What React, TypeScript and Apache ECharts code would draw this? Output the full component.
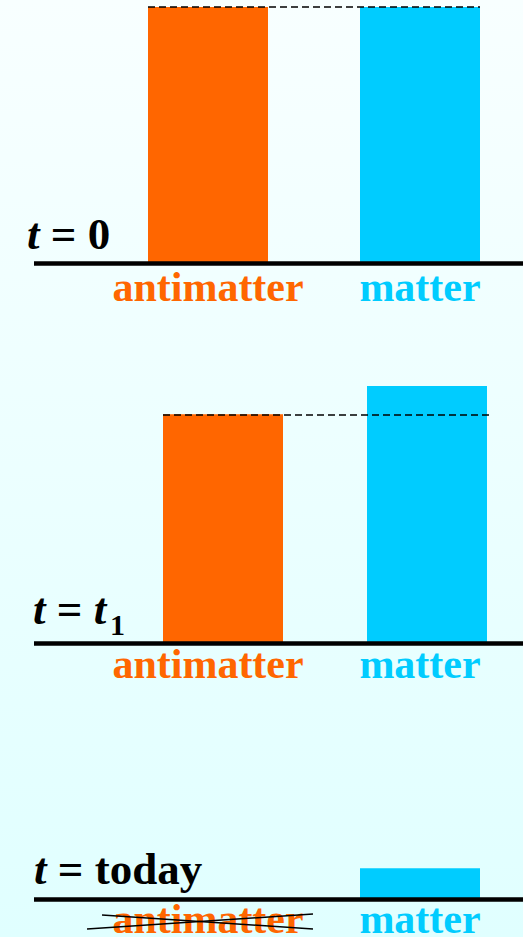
import React, { useEffect, useRef } from 'react';
import * as echarts from 'echarts';

// ---- data ----
const categories = ['antimatter', 'matter'];
const valuesT0 = [100, 100];
const valuesT1 = [89, 100];
const valuesToday = [0, 12];
const yMax = 100;

// ---- style ----
const ORANGE = '#FF6600';
const CYAN = '#00CCFF';
const SERIF = '"Liberation Serif", "Times New Roman", serif';
const BAR_W = 120;
const LABEL_SIZE = 42;

type Panel = {
  values: number[];
  left: number;
  width: number;
  top: number;
  height: number;
  labelMargin: number;
  labelShift: number[]; // right padding to offset labels
  dash: number[] | null; // [xStart, xEnd] of dashed reference line
};

const panels: Panel[] = [
  { values: valuesT0, left: 102, width: 424, top: 7, height: 256, labelMargin: 3, labelShift: [0, 0], dash: [148, 480] },
  { values: valuesT1, left: 121, width: 408, top: 386, height: 257, labelMargin: 0, labelShift: [30, 14], dash: [163, 492] },
  { values: valuesToday, left: 102, width: 424, top: 643, height: 256, labelMargin: -1, labelShift: [0, 0], dash: null },
];

export default function App() {
  const ref = useRef<HTMLDivElement>(null);

  useEffect(() => {
    if (!ref.current) return;
    const chart = echarts.init(ref.current, undefined, { renderer: 'svg' });

    const grid = panels.map((p) => ({
      left: p.left,
      top: p.top,
      width: p.width,
      height: p.height,
      containLabel: false,
      outerBoundsMode: 'none',
    }));

    const xAxis = panels.map((p, i) => ({
      type: 'category',
      gridIndex: i,
      data: categories,
      axisLine: { show: false },
      axisTick: { show: false },
      splitLine: { show: false },
      axisLabel: {
        margin: p.labelMargin,
        interval: 0,
        formatter: (v: string) => (v === 'antimatter' ? '{a|' + v + '}' : '{m|' + v + '}'),
        rich: {
          a: {
            color: ORANGE,
            fontFamily: SERIF,
            fontWeight: 'bold',
            fontSize: LABEL_SIZE,
            lineHeight: LABEL_SIZE,
            padding: [0, p.labelShift[0], 0, 0],
          },
          m: {
            color: CYAN,
            fontFamily: SERIF,
            fontWeight: 'bold',
            fontSize: LABEL_SIZE,
            lineHeight: LABEL_SIZE,
            padding: [0, p.labelShift[1], 0, 0],
          },
        },
      },
    }));

    const yAxis = panels.map((_, i) => ({
      type: 'value',
      gridIndex: i,
      min: 0,
      max: yMax,
      show: false,
    }));

    const series = panels.map((p, i) => {
      const lines: any[] = [
        [
          { x: 34, yAxis: 0, lineStyle: { type: 'solid', width: 4.5, color: '#000' } },
          { x: 523, yAxis: 0 },
        ],
      ];
      if (p.dash) {
        lines.push([
          { x: p.dash[0], yAxis: p.values[0], lineStyle: { type: [7, 4], width: 1.5, color: '#000' } },
          { x: p.dash[1], yAxis: p.values[0] },
        ]);
      }
      return {
        type: 'bar',
        xAxisIndex: i,
        yAxisIndex: i,
        barWidth: BAR_W,
        data: p.values.map((v, j) => ({
          value: v,
          itemStyle: { color: j === 0 ? ORANGE : CYAN },
        })),
        markLine: {
          silent: true,
          symbol: ['none', 'none'],
          label: { show: false },
          data: lines,
        },
      };
    });

    const titleRich = {
      i: { fontFamily: SERIF, fontWeight: 'bold', fontStyle: 'italic', fontSize: 45, lineHeight: 45, fill: '#000' },
      b: { fontFamily: SERIF, fontWeight: 'bold', fontSize: 45, lineHeight: 45, fill: '#000' },
    };

    const graphic: any[] = [
      {
        type: 'text',
        x: 27,
        y: 256,
        style: { text: '{i|t}{b| = 0}', rich: titleRich, verticalAlign: 'bottom', align: 'left' },
      },
      {
        type: 'text',
        x: 33,
        y: 631,
        style: { text: '{i|t}{b| = }{i|t}', rich: titleRich, verticalAlign: 'bottom', align: 'left' },
      },
      {
        type: 'text',
        x: 110,
        y: 639,
        style: {
          text: '1',
          font: 'bold 30px ' + SERIF,
          fill: '#000',
          verticalAlign: 'bottom',
          align: 'left',
        },
      },
      {
        type: 'text',
        x: 34,
        y: 891,
        style: { text: '{i|t}{b| = today}', rich: titleRich, verticalAlign: 'bottom', align: 'left' },
      },
      {
        type: 'line',
        shape: { x1: 87, y1: 929, x2: 313, y2: 914 },
        style: { stroke: '#000', lineWidth: 1.5 },
        z: 100,
      },
      {
        type: 'line',
        shape: { x1: 102, y1: 915, x2: 313, y2: 929 },
        style: { stroke: '#000', lineWidth: 1.5 },
        z: 100,
      },
    ];

    chart.setOption({
      animation: false,
      backgroundColor: new echarts.graphic.LinearGradient(0, 0, 0, 1, [
        { offset: 0, color: '#F8FFFF' },
        { offset: 1, color: '#E0FFFF' },
      ]),
      grid,
      xAxis,
      yAxis,
      series,
      graphic,
    });

    return () => chart.dispose();
  }, []);

  return (
    <div
      ref={ref}
      style={{ position: 'fixed', left: 0, top: 0, width: 523, height: 937 }}
    />
  );
}
